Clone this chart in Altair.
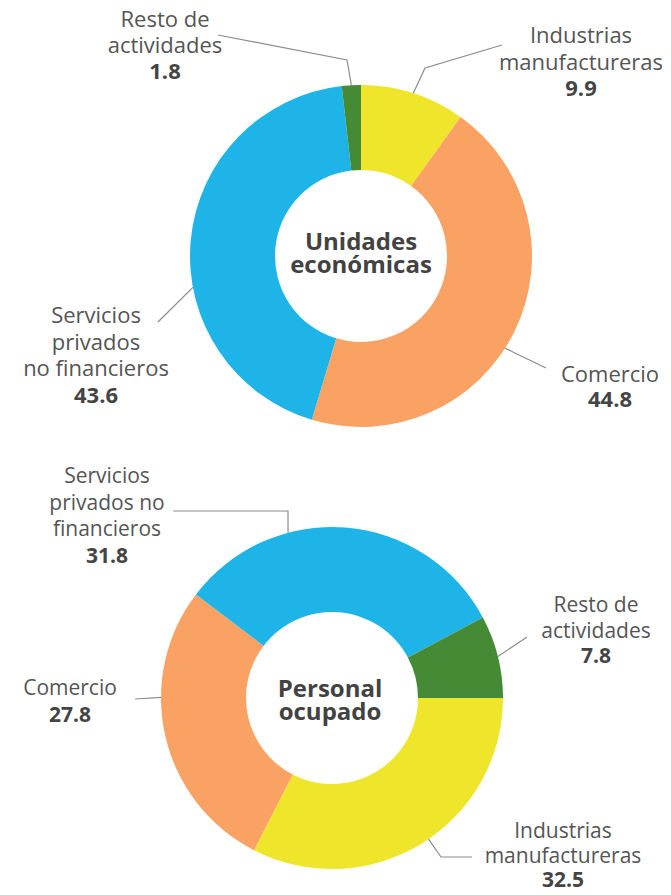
import math
import altair as alt
import pandas as pd

# ---------------- data ----------------
categories = ["Industrias manufactureras", "Comercio",
              "Servicios privados no financieros", "Resto de actividades"]
colors = ["#EFE62C", "#F9A264", "#1FB4E7", "#458A35"]

panels = ["Unidades económicas", "Personal ocupado"]
unidades_values = [9.9, 44.8, 43.6, 1.8]
personal_values = [32.5, 27.8, 31.8, 7.8]

unidades_names = [["Industrias", "manufactureras"], ["Comercio"],
                  ["Servicios", "privados", "no financieros"], ["Resto de", "actividades"]]
personal_names = [["Industrias", "manufactureras"], ["Comercio"],
                  ["Servicios", "privados no", "financieros"], ["Resto de", "actividades"]]
center_titles = [["Unidades", "económicas"], ["Personal", "ocupado"]]

# ---------------- layout (page pixels) ----------------
MARGIN = 8
W, H = 655, 879
R_OUT, R_IN = 171, 86
centers = [(361, 256), (332, 698)]
start_deg = [0, 90]
title_pos = [(361, 250), (330, 697)]
TITLE_LH = 23
font_sizes = [22, 21]
unidades_layout = [
    dict(tx=581, ty=43, lh=26.5, frac=0.5, elbow=(425, 68), end=(502, 45)),
    dict(tx=610, ty=382, lh=25, frac=0.54, elbow=None, end=(546, 368)),
    dict(tx=96, ty=323, lh=26.5, frac=0.40, elbow=None, end=(158, 322)),
    dict(tx=165, ty=27, lh=26, frac=0.5, elbow=(347, 60), end=(218, 35)),
]
personal_layout = [
    dict(tx=563, ty=838, lh=24.5, frac=0.475, elbow=(441, 857), end=(472, 857)),
    dict(tx=70, ty=695, lh=27, frac=0.63, elbow=None, end=(135, 699)),
    dict(tx=107, ty=483, lh=26.7, frac=0.33, elbow=(288, 511), end=(173, 511)),
    dict(tx=596, ty=612, lh=25.5, frac=0.5, elbow=None, end=(527, 637)),
]

FONT = "Open Sans"
NAME_COLOR = "#555555"
VALUE_COLOR = "#444444"
TITLE_COLOR = "#424242"
LINE_COLOR = "#8C8C8C"

xs = alt.Scale(domain=[MARGIN, MARGIN + W], zero=False, nice=False)
ys = alt.Scale(domain=[MARGIN, MARGIN + H], zero=False, nice=False, reverse=True)

all_values = [unidades_values, personal_values]
all_names = [unidades_names, personal_names]
all_layouts = [unidades_layout, personal_layout]

arc_layers = []
name_rows, value_rows, line_rows, title_rows = [], [], [], []

for p, panel in enumerate(panels):
    vals = all_values[p]
    total = sum(vals)
    cx, cy = centers[p]
    df = pd.DataFrame({"category": categories, "value": vals,
                       "idx": list(range(len(categories))), "panel": panel})
    start = math.radians(start_deg[p])
    arc = alt.Chart(df).mark_arc(outerRadius=R_OUT, innerRadius=R_IN).encode(
        theta=alt.Theta("value:Q", stack=True,
                        scale=alt.Scale(range=[start, start + 2 * math.pi])),
        color=alt.Color("category:N",
                        scale=alt.Scale(domain=categories, range=colors),
                        legend=None),
        order=alt.Order("idx:Q"),
        x=alt.value(cx - MARGIN),
        y=alt.value(cy - MARGIN),
    )
    arc_layers.append(arc)

    cum = 0.0
    for i, v in enumerate(vals):
        lay = all_layouts[p][i]
        ang = math.radians(start_deg[p] + 360.0 * (cum + lay["frac"] * v) / total)
        cum += v
        ax = cx + R_OUT * math.sin(ang)
        ay = cy - R_OUT * math.cos(ang)
        pts = [(ax, ay)]
        if lay["elbow"] is not None:
            pts.append(lay["elbow"])
        pts.append(lay["end"])
        lid = f"{p}-{i}"
        for k, (px, py) in enumerate(pts):
            line_rows.append({"lid": lid, "pt": k, "x": px, "y": py})
        lines_txt = all_names[p][i]
        for j, t in enumerate(lines_txt):
            name_rows.append({"x": lay["tx"], "y": lay["ty"] + j * lay["lh"],
                              "text": t, "fs": font_sizes[p]})
        value_rows.append({"x": lay["tx"], "y": lay["ty"] + len(lines_txt) * lay["lh"],
                           "text": f"{v:.1f}", "fs": font_sizes[p]})
    for j, t in enumerate(center_titles[p]):
        title_rows.append({"x": title_pos[p][0], "y": title_pos[p][1] + j * TITLE_LH,
                           "text": t})

lines = alt.Chart(pd.DataFrame(line_rows)).mark_line(
    color=LINE_COLOR, strokeWidth=1.2).encode(
    x=alt.X("x:Q", scale=xs, axis=None),
    y=alt.Y("y:Q", scale=ys, axis=None),
    detail="lid:N",
    order="pt:Q",
)

names_txt = alt.Chart(pd.DataFrame(name_rows)).mark_text(
    align="center", baseline="alphabetic", font=FONT, color=NAME_COLOR
).encode(
    x=alt.X("x:Q", scale=xs, axis=None),
    y=alt.Y("y:Q", scale=ys, axis=None),
    text="text:N",
    size=alt.Size("fs:Q", scale=None, legend=None),
)

values_txt = alt.Chart(pd.DataFrame(value_rows)).mark_text(
    align="center", baseline="alphabetic", font=FONT,
    fontWeight="bold", color=VALUE_COLOR
).encode(
    x=alt.X("x:Q", scale=xs, axis=None),
    y=alt.Y("y:Q", scale=ys, axis=None),
    text="text:N",
    size=alt.Size("fs:Q", scale=None, legend=None),
)

titles = alt.Chart(pd.DataFrame(title_rows)).mark_text(
    align="center", baseline="alphabetic",
    font=FONT, fontSize=24, fontWeight="bold", color=TITLE_COLOR
).encode(
    x=alt.X("x:Q", scale=xs, axis=None),
    y=alt.Y("y:Q", scale=ys, axis=None),
    text="text:N",
)

chart = alt.layer(*arc_layers, lines, names_txt, values_txt, titles).resolve_scale(
    theta="independent"
).properties(
    width=W, height=H, padding=0, autosize=alt.AutoSizeParams(type="none")
).configure_view(stroke=None)

chart.save("out.html", embed_options={"renderer": "svg", "actions": False})
